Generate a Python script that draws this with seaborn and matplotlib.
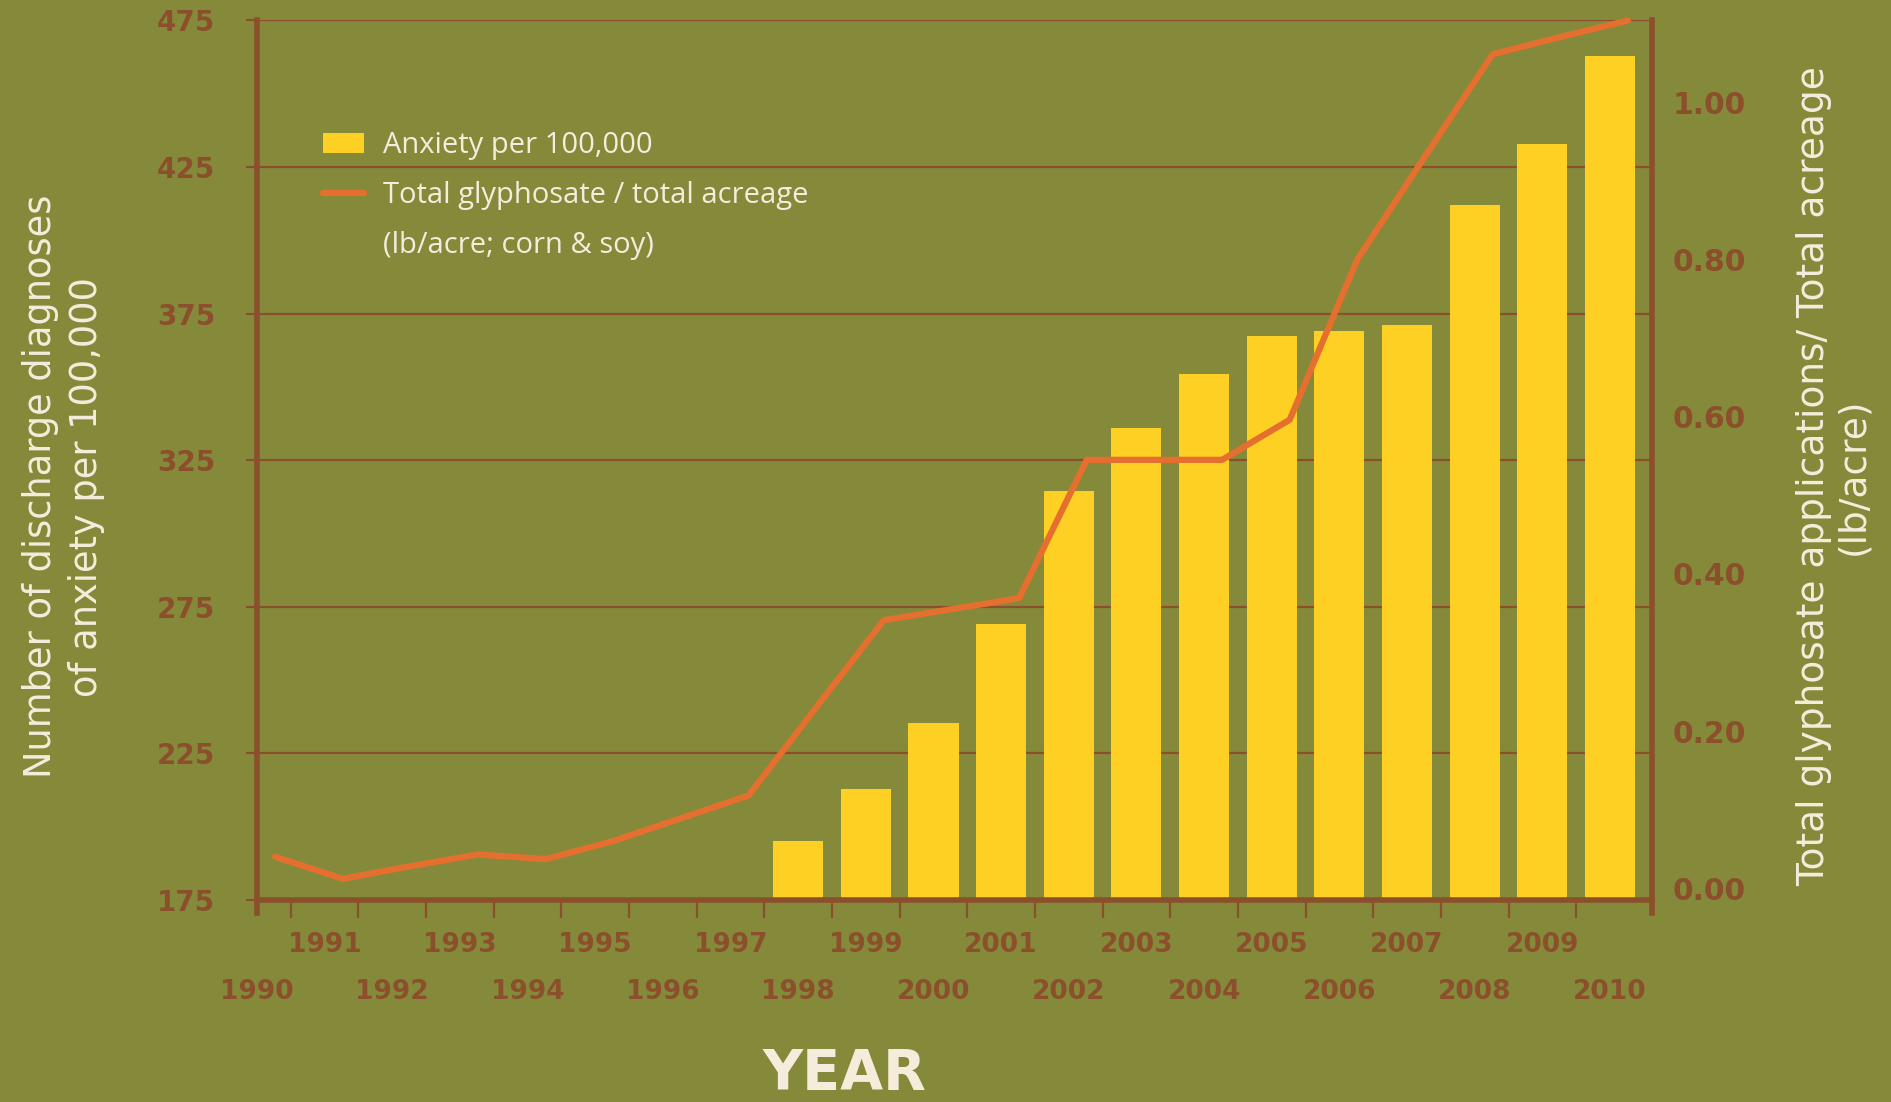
import numpy as np
import pandas as pd
import matplotlib
matplotlib.use("Agg")
import matplotlib.pyplot as plt
import seaborn as sns
from matplotlib.patches import Patch
from matplotlib.lines import Line2D


# ==========================================
# DATA
# ==========================================

years = [
    "1990", "1991", "1992", "1993", "1994", "1995", "1996",
    "1997", "1998", "1999", "2000", "2001", "2002", "2003",
    "2004", "2005", "2006", "2007", "2008", "2009", "2010"
]

anxiety_years = [
    "1998", "1999", "2000", "2001", "2002", "2003", "2004",
    "2005", "2006", "2007", "2008", "2009", "2010"
]

anxiety = [
    195, 213, 235.5, 269, 314.5, 336, 354.5,
    367.5, 369, 371, 412, 433, 463
]

glyphosate = [
    0.040, 0.012, 0.028, 0.043, 0.037, 0.060, 0.089,
    0.118, 0.230, 0.341, 0.355, 0.369, 0.545, 0.545,
    0.545, 0.596, 0.800, 0.931, 1.061, 1.083, 1.104
]

left_ticks = [175, 225, 275, 325, 375, 425, 475]
right_ticks = [0.0, 0.2, 0.4, 0.6, 0.8, 1.0]


# ==========================================
# STYLE
# ==========================================

BG = "#858a3a"
BROWN = "#8b4f2c"
YELLOW = "#fed023"
ORANGE = "#e46f2f"
CREAM = "#f5ecdc"

sns.set_theme(style="white")
plt.rcParams["font.family"] = ["DejaVu Sans"]

fig = plt.figure(figsize=(18.91, 11.02), dpi=100, facecolor=BG)

rect = [0.1359, 0.1833, 0.7377, 0.7981]


# ------------------------------------------
# BARS (left axis)
# ------------------------------------------

ax = fig.add_axes(rect)
ax.set_facecolor(BG)

bar_df = pd.DataFrame({"year": anxiety_years, "anxiety": anxiety})

sns.barplot(
    data=bar_df,
    x="year",
    y="anxiety",
    order=years,
    color=YELLOW,
    saturation=1,
    width=0.74,
    linewidth=0,
    ax=ax
)

ax.set_xlim(0.25, 20.62)
ax.set_ylim(175, 475)
ax.set_yticks(left_ticks)
ax.set_axisbelow(True)
ax.grid(axis="y", color=BROWN, linewidth=1.6)
ax.grid(axis="x", visible=False)

ax.tick_params(
    axis="y", left=True, length=8, width=1.6, color=BROWN,
    pad=22, labelsize=20, labelcolor=BROWN
)
for lbl in ax.get_yticklabels():
    lbl.set_fontweight("bold")

ax.set_xticks(range(len(years)))
ax.set_xticklabels(
    [y if i % 2 else "\n" + y for i, y in enumerate(years)]
)
ax.tick_params(
    axis="x", which="major", length=0, pad=23,
    labelsize=19, labelcolor=BROWN
)
for lbl in ax.get_xticklabels():
    lbl.set_fontweight("bold")
    lbl.set_linespacing(2.05)

ax.set_xticks(np.arange(len(years) - 1) + 0.5, minor=True)
ax.tick_params(
    axis="x", which="minor", bottom=True, length=13,
    width=1.6, color=BROWN
)

ax.set_xlabel("")
ax.set_ylabel(
    "Number of discharge diagnoses\nof anxiety per 100,000",
    color=CREAM, fontsize=26.5, linespacing=1.3
)
ax.yaxis.set_label_coords(-0.109, 0.47)

for side in ["left", "right", "bottom"]:
    ax.spines[side].set_color(BROWN)
    ax.spines[side].set_linewidth(4)
ax.spines["top"].set_visible(False)
ax.spines["left"].set_bounds(170.6, 475)
ax.spines["right"].set_bounds(170.6, 475)
ax.spines["bottom"].set_bounds(0.0, 20.62)


# ------------------------------------------
# LINE (right axis)
# ------------------------------------------

ax2 = fig.add_axes(rect)
ax2.patch.set_visible(False)

sns.lineplot(
    x=np.arange(len(years)),
    y=glyphosate,
    color=ORANGE,
    linewidth=4.5,
    clip_on=False,
    ax=ax2
)

ax2.set_xlim(-0.267, 20.356)
ax2.set_ylim(-0.015, 1.104)
ax2.set_xticks([])
ax2.yaxis.tick_right()
ax2.yaxis.set_label_position("right")
ax2.set_yticks(right_ticks)
ax2.set_yticklabels([f"{v:.2f}" for v in right_ticks])
ax2.tick_params(
    axis="y", right=True, left=False, length=0, pad=15,
    labelsize=21.5, labelcolor=BROWN
)
for lbl in ax2.get_yticklabels():
    lbl.set_fontweight("bold")

for side in ax2.spines:
    ax2.spines[side].set_visible(False)

ax2.set_ylabel(
    "Total glyphosate applications/ Total acreage\n(lb/acre)",
    color=CREAM, fontsize=27, linespacing=1.12, rotation=90
)
ax2.yaxis.set_label_coords(1.103, 0.482)


# ------------------------------------------
# LEGEND
# ------------------------------------------

handles = [
    Patch(facecolor=YELLOW, edgecolor="none"),
    Line2D([], [], color=ORANGE, linewidth=4.5),
    Line2D([], [], color="none")
]

labels = [
    "Anxiety per 100,000",
    "Total glyphosate / total acreage",
    "(lb/acre; corn & soy)"
]

ax2.legend(
    handles,
    labels,
    loc="upper left",
    bbox_to_anchor=(0.1708, 0.881),
    bbox_transform=fig.transFigure,
    frameon=False,
    prop={"family": "Open Sans", "size": 21},
    labelcolor=CREAM,
    handlelength=1.4,
    handleheight=0.7,
    handletextpad=0.67,
    labelspacing=0.72,
    borderaxespad=0,
    borderpad=0
)


# ------------------------------------------
# X TITLE
# ------------------------------------------

fig.text(
    844 / 1891, 1 / 1102, "YEAR",
    ha="center", va="bottom",
    color=CREAM, fontsize=40, fontweight="bold"
)

fig.savefig("out.png", dpi=100, facecolor=BG)
